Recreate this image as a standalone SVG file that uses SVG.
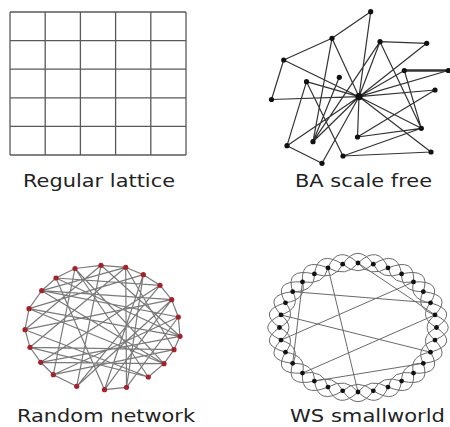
<svg xmlns="http://www.w3.org/2000/svg" xmlns:xlink="http://www.w3.org/1999/xlink" width="450" height="427" viewBox="0 0 450 427">
<style>
.lat{stroke:#5a5a5a;stroke-width:1.3;fill:none}
.ba{stroke:#333;stroke-width:1.2;fill:none}
.bn{fill:#111}
.re{stroke:#7a7a7a;stroke-width:1.2;fill:none}
.rn{fill:#a3222c}
.ws{stroke:#6a6a6a;stroke-width:1;fill:none}
.wn{fill:#111}
.lbl{font-family:"DejaVu Sans","Liberation Sans",sans-serif;font-size:17.5px;fill:#222;text-anchor:middle}
</style>
<defs>
<path id="lens" d="M0,-100 Q25.73,-129.37 38.27,-92.39 Q15.22,-76.51 0,-100 Z" class="ws" vector-effect="non-scaling-stroke"/>
</defs>

<!-- Regular lattice -->
<g id="lattice">
<path class="lat" d="M10,12V155M45.2,12V155M80.4,12V155M115.6,12V155M150.8,12V155M186,12V155M10,12H186M10,40.6H186M10,69.2H186M10,97.8H186M10,126.4H186M10,155H186"/>
</g>

<!-- BA scale free -->
<g id="ba-edges">
<path class="ba" d="M370.7,11.7L332,38.3M370.7,11.7L359,96.7M332,38.3L283.7,60M332,38.3L313,141.7M332,38.3L359,96.7M283.7,60L271.5,99.5M283.7,60L359,96.7M306.5,81.7L359,96.7M306.5,81.7L287,145.7M306.5,81.7L343,156M339.3,77.3L313,141.7M271.5,99.5L359,96.7M287,145.7L322,163.3M287,145.7L359,96.7M313,141.7L359,96.7M322,163.3L359,96.7M380,41.7L426.7,43.3M380,41.7L359,96.7M380,41.7L313,141.7M380,41.7L421.3,128.3M426.7,43.3L359,96.7M404.3,70.5L359,96.7M404.3,70.5L421.3,128.3M448.3,70.5L359,96.7M435,90L359,96.7M435,90L357.5,137M359,96.7L357.5,137M359,96.7L421.3,128.3M359,96.7L431,152M343,156L431,152M343,156L421.3,128.3M357.5,137L421.3,128.3"/>
<path d="M404.3,70.5L448.3,70.5" stroke="#333" stroke-width="2.6"/>
</g>
<g id="ba-hub"><circle class="bn" cx="359" cy="96.7" r="3.6"/></g>
<g id="ba-n1"><circle class="bn" cx="370.7" cy="11.7" r="2.6"/></g>
<g id="ba-n2"><circle class="bn" cx="332" cy="38.3" r="2.6"/></g>
<g id="ba-n3"><circle class="bn" cx="380" cy="41.7" r="2.6"/></g>
<g id="ba-n4"><circle class="bn" cx="426.7" cy="43.3" r="2.6"/></g>
<g id="ba-n5"><circle class="bn" cx="283.7" cy="60" r="2.6"/></g>
<g id="ba-n6"><circle class="bn" cx="404.3" cy="70.5" r="2.6"/></g>
<g id="ba-n7"><circle class="bn" cx="448.3" cy="70.5" r="2.6"/></g>
<g id="ba-n8"><circle class="bn" cx="306.5" cy="81.7" r="2.6"/></g>
<g id="ba-n9"><circle class="bn" cx="339.3" cy="77.3" r="2.6"/></g>
<g id="ba-n10"><circle class="bn" cx="435" cy="90" r="2.6"/></g>
<g id="ba-n11"><circle class="bn" cx="271.5" cy="99.5" r="2.6"/></g>
<g id="ba-n12"><circle class="bn" cx="421.3" cy="128.3" r="2.6"/></g>
<g id="ba-n13"><circle class="bn" cx="357.5" cy="137" r="2.6"/></g>
<g id="ba-n14"><circle class="bn" cx="287" cy="145.7" r="2.6"/></g>
<g id="ba-n15"><circle class="bn" cx="313" cy="141.7" r="2.6"/></g>
<g id="ba-n16"><circle class="bn" cx="343" cy="156" r="2.6"/></g>
<g id="ba-n17"><circle class="bn" cx="431" cy="152" r="2.6"/></g>
<g id="ba-n18"><circle class="bn" cx="322" cy="163.3" r="2.6"/></g>

<!-- Random network -->
<g id="random-edges">
<path class="re" d="M75,268.5L101,265.3L125.7,267.3L143.3,274.7L160,285.3L171.7,299.7L178.3,317L180,336.3L174,349.7L164,363.7L148.3,377M126.5,387.3L104.5,389.7M76.7,386.3L53.3,374.7L40.7,362.3L30,347.3L25,329.7L29,308.7L41.7,290.7L56,278L75,268.5
M75,268.5L53.3,374.7M75,268.5L164,363.7M101,265.3L76.7,386.3M101,265.3L180,336.3M101,265.3L25,329.7M125.7,267.3L126.5,387.3M125.7,267.3L41.7,290.7M125.7,267.3L30,347.3M143.3,274.7L29,308.7M143.3,274.7L104.5,389.7M160,285.3L56,278M160,285.3L40.7,362.3M171.7,299.7L25,329.7M171.7,299.7L76.7,386.3M178.3,317L41.7,290.7M178.3,317L53.3,374.7M178.3,317L126.5,387.3M180,336.3L29,308.7M180,336.3L56,278M174,349.7L30,347.3M174,349.7L125.7,267.3M164,363.7L41.7,290.7M164,363.7L40.7,362.3M148.3,377L25,329.7M148.3,377L75,268.5M126.5,387.3L143.3,274.7M104.5,389.7L56,278M104.5,389.7L171.7,299.7M76.7,386.3L160,285.3M53.3,374.7L174,349.7M40.7,362.3L180,336.3M30,347.3L148.3,377M29,308.7L164,363.7M41.7,290.7L171.7,299.7"/>
</g>
<g id="rn0"><circle class="rn" cx="75" cy="268.5" r="2.6"/></g>
<g id="rn1"><circle class="rn" cx="101" cy="265.3" r="2.6"/></g>
<g id="rn2"><circle class="rn" cx="125.7" cy="267.3" r="2.6"/></g>
<g id="rn3"><circle class="rn" cx="143.3" cy="274.7" r="2.6"/></g>
<g id="rn4"><circle class="rn" cx="160" cy="285.3" r="2.6"/></g>
<g id="rn5"><circle class="rn" cx="171.7" cy="299.7" r="2.6"/></g>
<g id="rn6"><circle class="rn" cx="178.3" cy="317" r="2.6"/></g>
<g id="rn7"><circle class="rn" cx="180" cy="336.3" r="2.6"/></g>
<g id="rn8"><circle class="rn" cx="174" cy="349.7" r="2.6"/></g>
<g id="rn9"><circle class="rn" cx="164" cy="363.7" r="2.6"/></g>
<g id="rn10"><circle class="rn" cx="148.3" cy="377" r="2.6"/></g>
<g id="rn11"><circle class="rn" cx="126.5" cy="387.3" r="2.6"/></g>
<g id="rn12"><circle class="rn" cx="104.5" cy="389.7" r="2.6"/></g>
<g id="rn13"><circle class="rn" cx="76.7" cy="386.3" r="2.6"/></g>
<g id="rn14"><circle class="rn" cx="53.3" cy="374.7" r="2.6"/></g>
<g id="rn15"><circle class="rn" cx="40.7" cy="362.3" r="2.6"/></g>
<g id="rn16"><circle class="rn" cx="30" cy="347.3" r="2.6"/></g>
<g id="rn17"><circle class="rn" cx="25" cy="329.7" r="2.6"/></g>
<g id="rn18"><circle class="rn" cx="29" cy="308.7" r="2.6"/></g>
<g id="rn19"><circle class="rn" cx="41.7" cy="290.7" r="2.6"/></g>
<g id="rn20"><circle class="rn" cx="56" cy="278" r="2.6"/></g>

<!-- WS small world -->
<g id="ws-edges">
<g transform="translate(358 327.5) scale(0.785 0.645)">
<use href="#lens" xlink:href="#lens"/>
<use href="#lens" xlink:href="#lens" transform="rotate(11.25)"/>
<use href="#lens" xlink:href="#lens" transform="rotate(22.5)"/>
<use href="#lens" xlink:href="#lens" transform="rotate(33.75)"/>
<use href="#lens" xlink:href="#lens" transform="rotate(45)"/>
<use href="#lens" xlink:href="#lens" transform="rotate(56.25)"/>
<use href="#lens" xlink:href="#lens" transform="rotate(67.5)"/>
<use href="#lens" xlink:href="#lens" transform="rotate(78.75)"/>
<use href="#lens" xlink:href="#lens" transform="rotate(90)"/>
<use href="#lens" xlink:href="#lens" transform="rotate(101.25)"/>
<use href="#lens" xlink:href="#lens" transform="rotate(112.5)"/>
<use href="#lens" xlink:href="#lens" transform="rotate(123.75)"/>
<use href="#lens" xlink:href="#lens" transform="rotate(135)"/>
<use href="#lens" xlink:href="#lens" transform="rotate(146.25)"/>
<use href="#lens" xlink:href="#lens" transform="rotate(157.5)"/>
<use href="#lens" xlink:href="#lens" transform="rotate(168.75)"/>
<use href="#lens" xlink:href="#lens" transform="rotate(180)"/>
<use href="#lens" xlink:href="#lens" transform="rotate(191.25)"/>
<use href="#lens" xlink:href="#lens" transform="rotate(202.5)"/>
<use href="#lens" xlink:href="#lens" transform="rotate(213.75)"/>
<use href="#lens" xlink:href="#lens" transform="rotate(225)"/>
<use href="#lens" xlink:href="#lens" transform="rotate(236.25)"/>
<use href="#lens" xlink:href="#lens" transform="rotate(247.5)"/>
<use href="#lens" xlink:href="#lens" transform="rotate(258.75)"/>
<use href="#lens" xlink:href="#lens" transform="rotate(270)"/>
<use href="#lens" xlink:href="#lens" transform="rotate(281.25)"/>
<use href="#lens" xlink:href="#lens" transform="rotate(292.5)"/>
<use href="#lens" xlink:href="#lens" transform="rotate(303.75)"/>
<use href="#lens" xlink:href="#lens" transform="rotate(315)"/>
<use href="#lens" xlink:href="#lens" transform="rotate(326.25)"/>
<use href="#lens" xlink:href="#lens" transform="rotate(337.5)"/>
<use href="#lens" xlink:href="#lens" transform="rotate(348.75)"/>
</g>
<path class="ws" d="M358,263L435,314.9M328,267.9L358,392M302.5,281.9L292.7,363.3M292.7,291.7L430.5,302.8M281,314.9L430.5,352.2M281,340.1L413.5,281.9M302.5,373.1L435,314.9M314.4,381.1L423.3,363.3"/>
</g>
<g id="ws0"><circle class="wn" cx="358" cy="263" r="2.4"/></g>
<g id="ws1"><circle class="wn" cx="373.3" cy="264.2" r="2.4"/></g>
<g id="ws2"><circle class="wn" cx="388" cy="267.9" r="2.4"/></g>
<g id="ws3"><circle class="wn" cx="401.6" cy="273.9" r="2.4"/></g>
<g id="ws4"><circle class="wn" cx="413.5" cy="281.9" r="2.4"/></g>
<g id="ws5"><circle class="wn" cx="423.3" cy="291.7" r="2.4"/></g>
<g id="ws6"><circle class="wn" cx="430.5" cy="302.8" r="2.4"/></g>
<g id="ws7"><circle class="wn" cx="435" cy="314.9" r="2.4"/></g>
<g id="ws8"><circle class="wn" cx="436.5" cy="327.5" r="2.4"/></g>
<g id="ws9"><circle class="wn" cx="435" cy="340.1" r="2.4"/></g>
<g id="ws10"><circle class="wn" cx="430.5" cy="352.2" r="2.4"/></g>
<g id="ws11"><circle class="wn" cx="423.3" cy="363.3" r="2.4"/></g>
<g id="ws12"><circle class="wn" cx="413.5" cy="373.1" r="2.4"/></g>
<g id="ws13"><circle class="wn" cx="401.6" cy="381.1" r="2.4"/></g>
<g id="ws14"><circle class="wn" cx="388" cy="387.1" r="2.4"/></g>
<g id="ws15"><circle class="wn" cx="373.3" cy="390.8" r="2.4"/></g>
<g id="ws16"><circle class="wn" cx="358" cy="392" r="2.4"/></g>
<g id="ws17"><circle class="wn" cx="342.7" cy="390.8" r="2.4"/></g>
<g id="ws18"><circle class="wn" cx="328" cy="387.1" r="2.4"/></g>
<g id="ws19"><circle class="wn" cx="314.4" cy="381.1" r="2.4"/></g>
<g id="ws20"><circle class="wn" cx="302.5" cy="373.1" r="2.4"/></g>
<g id="ws21"><circle class="wn" cx="292.7" cy="363.3" r="2.4"/></g>
<g id="ws22"><circle class="wn" cx="285.5" cy="352.2" r="2.4"/></g>
<g id="ws23"><circle class="wn" cx="281" cy="340.1" r="2.4"/></g>
<g id="ws24"><circle class="wn" cx="279.5" cy="327.5" r="2.4"/></g>
<g id="ws25"><circle class="wn" cx="281" cy="314.9" r="2.4"/></g>
<g id="ws26"><circle class="wn" cx="285.5" cy="302.8" r="2.4"/></g>
<g id="ws27"><circle class="wn" cx="292.7" cy="291.7" r="2.4"/></g>
<g id="ws28"><circle class="wn" cx="302.5" cy="281.9" r="2.4"/></g>
<g id="ws29"><circle class="wn" cx="314.4" cy="273.9" r="2.4"/></g>
<g id="ws30"><circle class="wn" cx="328" cy="267.9" r="2.4"/></g>
<g id="ws31"><circle class="wn" cx="342.7" cy="264.2" r="2.4"/></g>

<!-- Labels -->
<g id="labels">
<text class="lbl" x="99" y="186.5" textLength="152" lengthAdjust="spacingAndGlyphs">Regular lattice</text>
<text class="lbl" x="363.5" y="186.5" textLength="137" lengthAdjust="spacingAndGlyphs">BA scale free</text>
<text class="lbl" x="106" y="422.3" textLength="178" lengthAdjust="spacingAndGlyphs">Random network</text>
<text class="lbl" x="367.5" y="422.3" textLength="155" lengthAdjust="spacingAndGlyphs">WS smallworld</text>
</g>
</svg>
